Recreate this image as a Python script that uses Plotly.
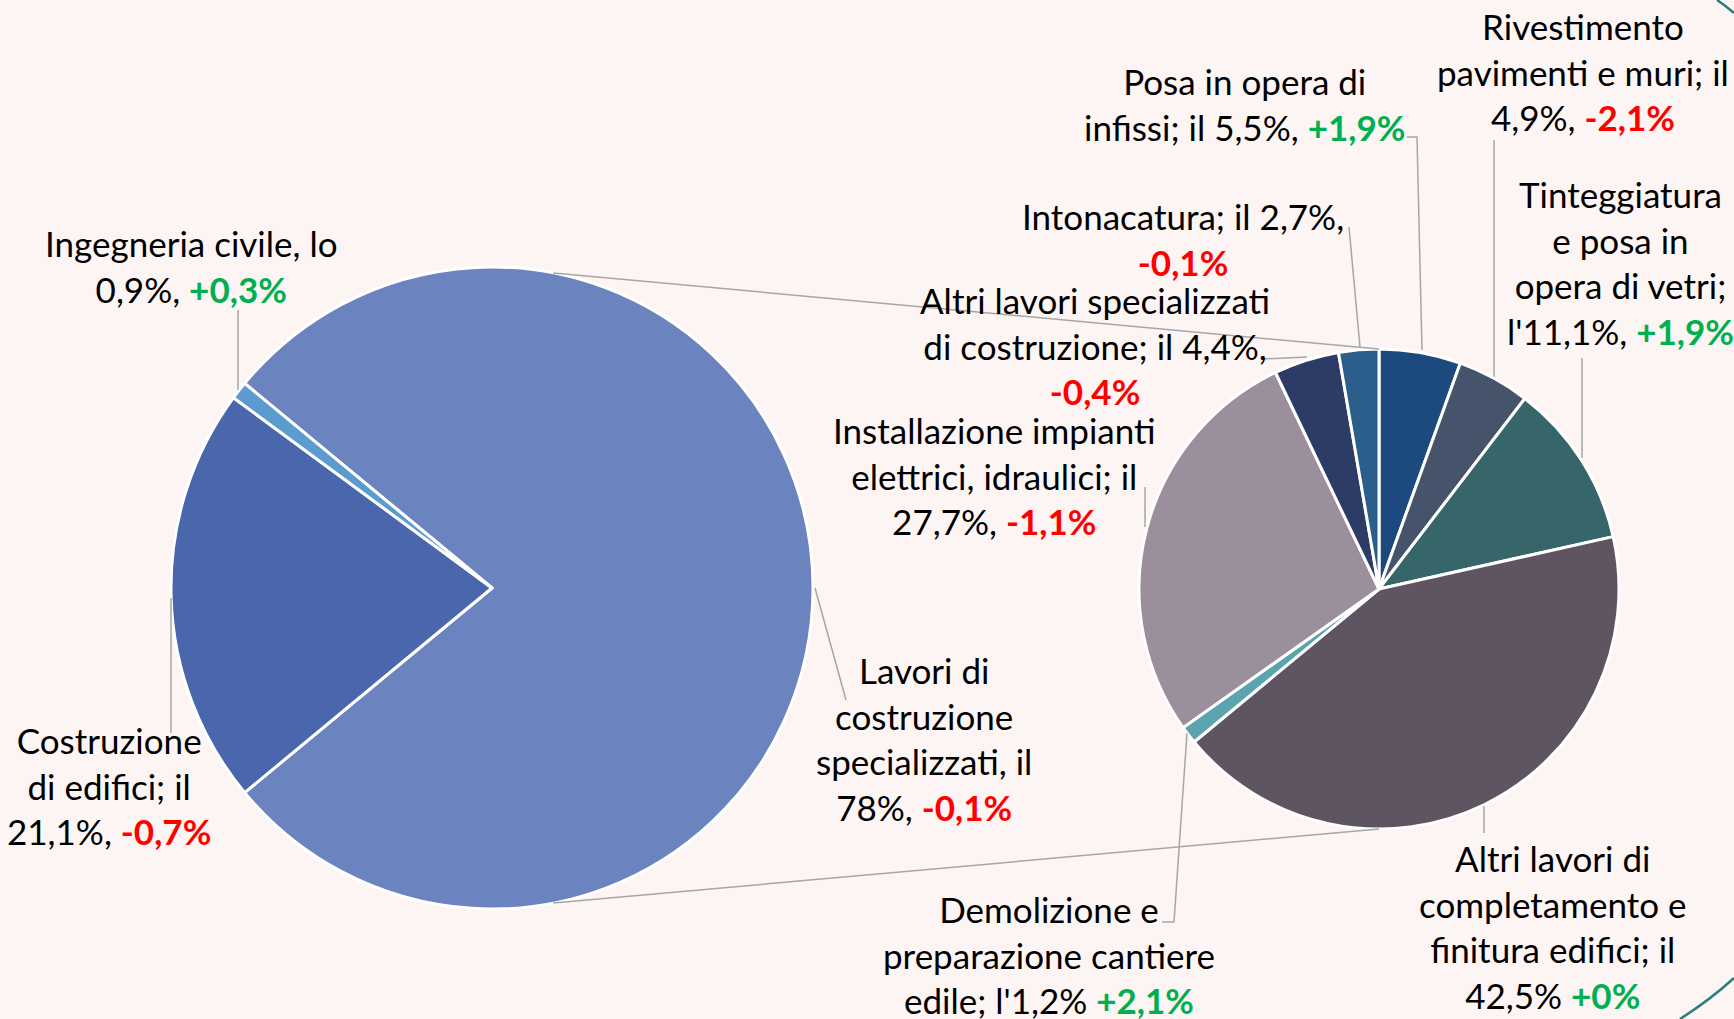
"""Pie-of-pie: costruzioni, composizione e variazione delle quote."""

import math

import plotly.graph_objects as go

W, H = 1734, 1019

# --- dati --------------------------------------------------------------
outer_labels = ["Lavori di costruzione specializzati", "Costruzione di edifici",
                "Ingegneria civile"]
outer_shares = [78, 21.1, 0.9]
outer_delta = [-0.1, -0.7, 0.3]
outer_heads = ["Lavori di<br>costruzione<br>specializzati, il<br>",
               "Costruzione<br>di edifici; il<br>",
               "Ingegneria civile, lo<br>"]
outer_seps = [", ", ", ", ", "]
outer_colors = ["#6B83BE", "#4A67AD", "#5B9BD0"]

inner_labels = ["Posa in opera di infissi", "Rivestimento pavimenti e muri",
                "Tinteggiatura e posa in opera di vetri",
                "Altri lavori di completamento e finitura edifici",
                "Demolizione e preparazione cantiere edile",
                "Installazione impianti elettrici, idraulici",
                "Altri lavori specializzati di costruzione", "Intonacatura"]
inner_shares = [5.5, 4.9, 11.1, 42.5, 1.2, 27.7, 4.4, 2.7]
inner_delta = [1.9, -2.1, 1.9, 0.0, 2.1, -1.1, -0.4, -0.1]
inner_heads = ["Posa in opera di<br>infissi; il ",
               "Rivestimento<br>pavimenti e muri; il<br>",
               "Tinteggiatura<br>e posa in<br>opera di vetri;<br>l'",
               "Altri lavori di<br>completamento e<br>finitura edifici; il<br>",
               "Demolizione e<br>preparazione cantiere<br>edile; l'",
               "Installazione impianti<br>elettrici, idraulici; il<br>",
               "Altri lavori specializzati<br>di costruzione; il ",
               "Intonacatura; il "]
inner_seps = [", ", ", ", ", ", " ", " ", ", ", ",<br>", ",<br>"]
inner_colors = ["#1C4A7E", "#46546B", "#36656A", "#5F5462",
                "#5BA4AF", "#9C8F9D", "#2D3C66", "#2C5E8B"]

# posizioni (px) dei blocchi di testo
outer_label_pos = [(924, 738), (109, 785), (191, 266)]
inner_label_pos = [(1244, 104), (1583, 72), (1620, 262), (1553, 926),
                   (1049, 954), (995, 475), (1095, 346), (1183, 239)]

# linee guida (px)
leaders = [
    [(815, 588), (846, 700)],
    [(171, 598), (171, 733)],
    [(238, 310), (238, 390)],
    [(1407, 137), (1417, 137), (1422, 350)],
    [(1494, 140), (1494, 377)],
    [(1582, 358), (1582, 458)],
    [(1484, 806), (1484, 833)],
    [(1187, 733), (1174, 922), (1162, 922)],
    [(1145, 487), (1145, 527)],
    [(1262, 359), (1307, 357)],
    [(1349, 227), (1360, 347)],
]

LEFT_C, LEFT_R = (492, 588), 321
RIGHT_C, RIGHT_R = (1379, 589), 240

RED, GREEN, GREY = "#FF0000", "#00B050", "#A6A6A6"
BG = "#FDF5F4"
TEAL = "#2B7E7B"
FONT = "Lato"


def fx(x):
    return x / W


def fy(y):
    return 1 - y / H


def num(v, signed=False):
    s = f"{v:+.1f}" if signed else f"{v:.1f}"
    if s.endswith(".0"):
        s = s[:-2]
    return s.replace(".", ",")


def label_text(head, share, sep, delta):
    col = GREEN if delta >= 0 else RED
    return (f"{head}{num(share)}%{sep}"
            f"<b><span style='color:{col}'>{num(delta, True)}%</span></b>")


def domain(c, r):
    return dict(x=[fx(c[0] - r), fx(c[0] + r)], y=[fy(c[1] + r), fy(c[1] - r)])


fig = go.Figure()
fig.add_trace(go.Pie(
    labels=outer_labels, values=outer_shares, sort=False, direction="clockwise",
    rotation=90 - outer_shares[0] * 3.6 / 2, domain=domain(LEFT_C, LEFT_R),
    marker=dict(colors=outer_colors, line=dict(color="white", width=3)),
    textinfo="none", hovertemplate="%{label}: %{value}%<extra></extra>",
    showlegend=False,
))
fig.add_trace(go.Pie(
    labels=inner_labels, values=inner_shares, sort=False, direction="clockwise",
    rotation=0, domain=domain(RIGHT_C, RIGHT_R),
    marker=dict(colors=inner_colors, line=dict(color="white", width=3)),
    textinfo="none", hovertemplate="%{label}: %{value}%<extra></extra>",
    showlegend=False,
))

annotations = []
for heads, shares, seps, deltas, pos in [
        (outer_heads, outer_shares, outer_seps, outer_delta, outer_label_pos),
        (inner_heads, inner_shares, inner_seps, inner_delta, inner_label_pos)]:
    for h, s, sp, d, (x, y) in zip(heads, shares, seps, deltas, pos):
        annotations.append(dict(
            text=label_text(h, s, sp, d), x=fx(x), y=fy(y), xref="paper",
            yref="paper", xanchor="center", yanchor="middle", align="center",
            showarrow=False, font=dict(family=FONT, size=35, color="black"),
        ))

shapes = []
for pts in leaders:
    path = "M " + " L ".join(f"{fx(x)} {fy(y)}" for x, y in pts)
    shapes.append(dict(type="path", path=path, xref="paper", yref="paper",
                       line=dict(color=GREY, width=1.5)))

# linee di collegamento tra le due torte
ang = math.radians(79)
for sgn in (1, -1):
    x0 = LEFT_C[0] + LEFT_R * math.cos(ang)
    y0 = LEFT_C[1] - sgn * LEFT_R * math.sin(ang)
    x1 = RIGHT_C[0]
    y1 = RIGHT_C[1] - sgn * RIGHT_R
    shapes.append(dict(type="line", x0=fx(x0), y0=fy(y0), x1=fx(x1), y1=fy(y1),
                       xref="paper", yref="paper",
                       line=dict(color=GREY, width=1.5)))

# archi decorativi della slide negli angoli a destra
for a, q, b in [((1717, 0), (1726, 6), (1734, 13)),
                ((1680, 1019), (1710, 1000), (1734, 978))]:
    shapes.append(dict(
        type="path", xref="paper", yref="paper",
        path=f"M {fx(a[0])} {fy(a[1])} Q {fx(q[0])} {fy(q[1])} {fx(b[0])} {fy(b[1])}",
        line=dict(color=TEAL, width=2.5)))

fig.update_layout(
    width=W, height=H, margin=dict(l=0, r=0, t=0, b=0),
    paper_bgcolor=BG, plot_bgcolor=BG,
    annotations=annotations, shapes=shapes,
)

fig.write_html("out.html", config={"displayModeBar": False},
               post_script="document.body.style.margin='0';")
